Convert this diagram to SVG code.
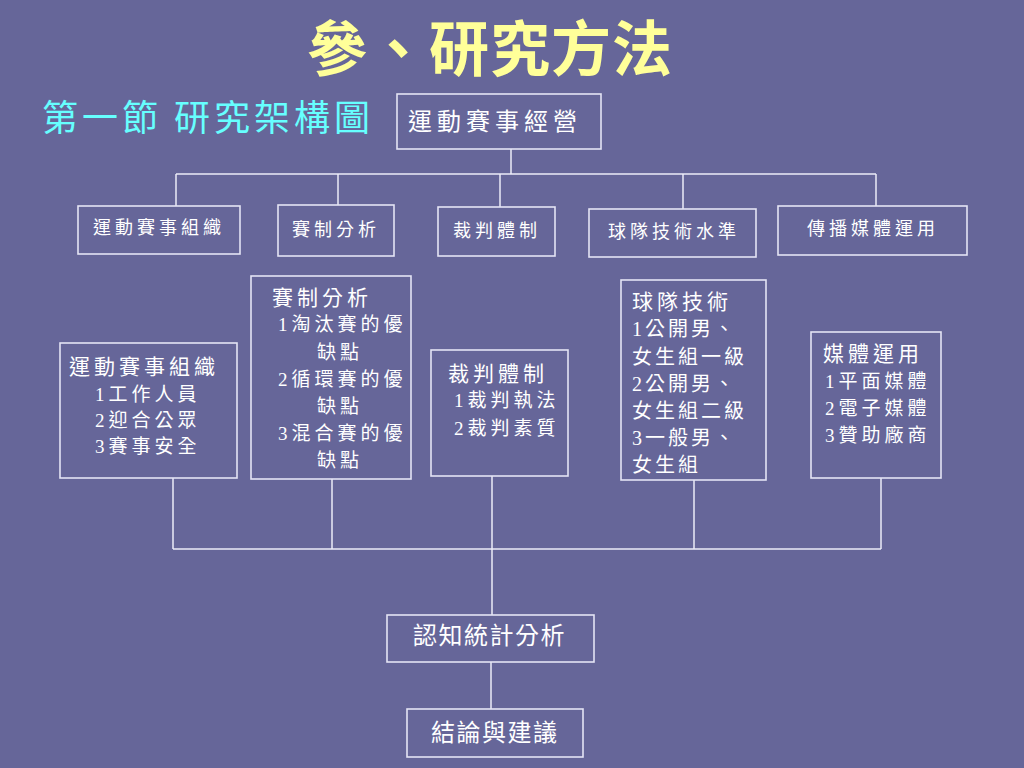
<svg xmlns="http://www.w3.org/2000/svg" width="1024" height="768" viewBox="0 0 1024 768">
<style>
.box{fill:none;stroke:#e4e4f4;stroke-width:1.6}
.ln{fill:none;stroke:#ececf8;stroke-width:1.5}
.t{font-family:"Liberation Serif","Noto Sans CJK TC",serif;fill:#ffffff}
.h{font-size:18px;letter-spacing:4px}
.d{font-size:21px;letter-spacing:4px}
.i{font-size:19px;letter-spacing:4px}
.c{font-size:20px;letter-spacing:3px}
.b{font-size:24px;letter-spacing:1.5px}
</style>
<rect width="1024" height="768" fill="#666699"/>
<text x="307" y="71" font-family="'Noto Sans CJK TC',sans-serif" font-size="60" font-weight="bold" letter-spacing="1" fill="#ffff99">參、研究方法</text>
<text x="42" y="131" font-family="'Noto Sans CJK TC',sans-serif" font-size="36" letter-spacing="4" fill="#66ffff">第一節 研究架構圖</text>
<g id="connectors">
<path class="ln" d="M511,149V174M176,174H876M176,174V206M338,174V205M500,174V207M683,174V209M876,174V206"/>
<path class="ln" d="M173,478V549M332,479V549M492,476V615M694,480V549M881,478V549M173,549H881"/>
<path class="ln" d="M491,662V709"/>
</g>
<g id="n-top"><rect class="box" x="397" y="94" width="204" height="55"/><text class="t" x="408" y="130" font-size="24" letter-spacing="5">運動賽事經營</text></g>
<g id="n-r1"><rect class="box" x="78" y="206" width="162" height="48"/><text class="t h" x="93" y="234">運動賽事組織</text></g>
<g id="n-r2"><rect class="box" x="278" y="205" width="116" height="51"/><text class="t h" x="292" y="236">賽制分析</text></g>
<g id="n-r3"><rect class="box" x="438" y="207" width="117" height="49"/><text class="t h" x="453" y="237">裁判體制</text></g>
<g id="n-r4"><rect class="box" x="589" y="209" width="167" height="48"/><text class="t h" x="608" y="238">球隊技術水準</text></g>
<g id="n-r5"><rect class="box" x="778" y="206" width="189" height="49"/><text class="t h" x="807" y="235">傳播媒體運用</text></g>
<g id="n-d1"><rect class="box" x="60" y="343" width="177" height="135"/>
<text class="t d" x="69" y="374">運動賽事組織</text>
<text class="t i" x="95" y="401">1工作人員</text>
<text class="t i" x="95" y="427">2迎合公眾</text>
<text class="t i" x="95" y="453">3賽事安全</text></g>
<g id="n-d2"><rect class="box" x="251" y="276" width="160" height="203"/>
<text class="t d" x="272" y="305">賽制分析</text>
<text class="t i" x="278" y="331">1淘汰賽的優</text>
<text class="t i" x="317" y="359">缺點</text>
<text class="t i" x="278" y="386">2循環賽的優</text>
<text class="t i" x="317" y="413">缺點</text>
<text class="t i" x="278" y="440">3混合賽的優</text>
<text class="t i" x="317" y="467">缺點</text></g>
<g id="n-d3"><rect class="box" x="431" y="350" width="137" height="126"/>
<text class="t d" x="448" y="381">裁判體制</text>
<text class="t i" x="454" y="407">1裁判執法</text>
<text class="t i" x="454" y="435">2裁判素質</text></g>
<g id="n-d4"><rect class="box" x="621" y="280" width="145" height="200"/>
<text class="t d" x="632" y="309">球隊技術</text>
<text class="t c" x="632" y="336">1公開男、</text>
<text class="t c" x="632" y="364">女生組一級</text>
<text class="t c" x="632" y="391">2公開男、</text>
<text class="t c" x="632" y="418">女生組二級</text>
<text class="t c" x="632" y="445">3一般男、</text>
<text class="t c" x="632" y="472">女生組</text></g>
<g id="n-d5"><rect class="box" x="811" y="332" width="130" height="146"/>
<text class="t d" x="823" y="361">媒體運用</text>
<text class="t i" x="825" y="388">1平面媒體</text>
<text class="t i" x="825" y="415">2電子媒體</text>
<text class="t i" x="825" y="442">3贊助廠商</text></g>
<g id="n-ana"><rect class="box" x="387" y="615" width="207" height="47"/><text class="t b" x="413" y="644">認知統計分析</text></g>
<g id="n-con"><rect class="box" x="407" y="709" width="176" height="48"/><text class="t b" x="431" y="741">結論與建議</text></g>
</svg>
